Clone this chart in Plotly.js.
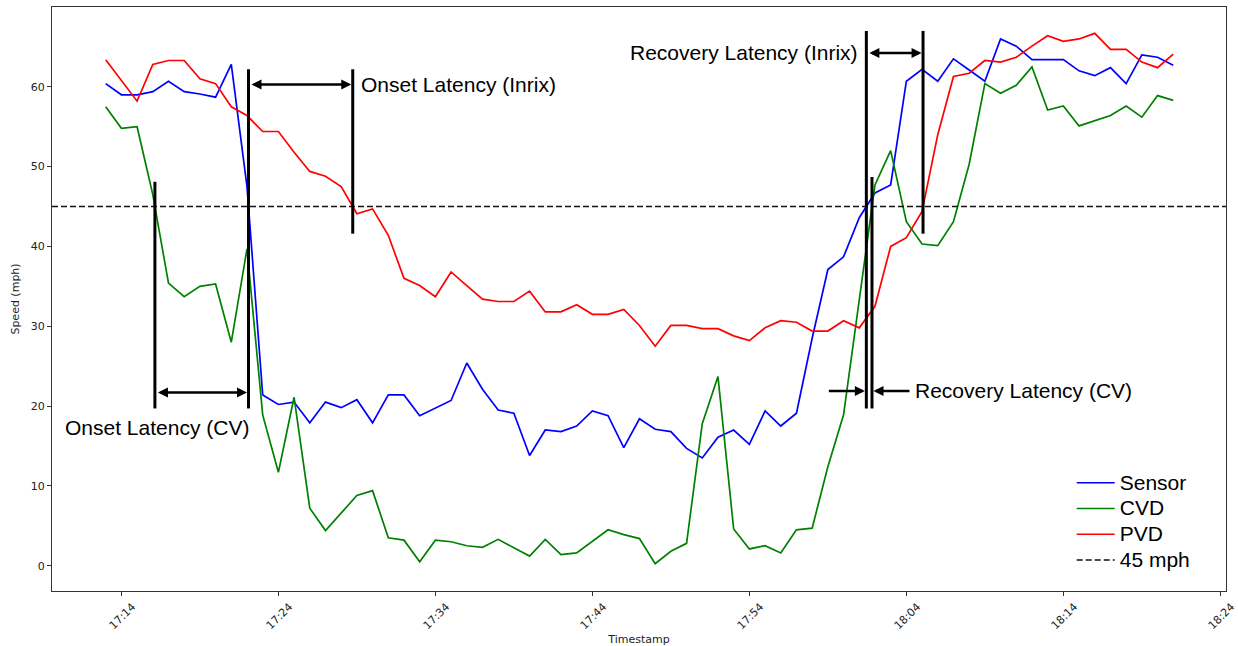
<!DOCTYPE html>
<html>
<head>
<meta charset="utf-8">
<script src="https://cdn.plot.ly/plotly-3.0.1.min.js"></script>
<style>
  html, body { margin: 0; padding: 0; background: #ffffff; }
  #chart { width: 1238px; height: 646px; }
</style>
</head>
<body>
<div id="chart"></div>
<script>
// Speeds (mph), one reading per minute starting at 17:13
const sensorSpeed = [
  60.4, 59.0, 59.0, 59.4, 60.7, 59.4, 59.1, 58.7, 62.8, 47.5,
  21.4, 20.2, 20.5, 17.9, 20.5, 19.8, 20.8, 17.9, 21.4, 21.4,
  18.8, 19.8, 20.7, 25.4, 22.1, 19.5, 19.1, 13.8, 17.0, 16.8,
  17.5, 19.4, 18.8, 14.8, 18.4, 17.1, 16.8, 14.7, 13.5, 16.1,
  17.0, 15.2, 19.4, 17.5, 19.1, 28.5, 37.1, 38.7, 43.6, 46.7,
  47.7, 60.7, 62.2, 60.7, 63.5, 62.1, 60.7, 66.0, 65.1, 63.4,
  63.4, 63.4, 62.0, 61.4, 62.4, 60.4, 64.0, 63.7, 62.7
];
const cvdSpeed = [
  57.5, 54.8, 55.0, 46.5, 35.4, 33.7, 35.0, 35.3, 28.0, 39.7,
  18.9, 11.7, 21.1, 7.2, 4.4, 6.6, 8.8, 9.4, 3.5, 3.2,
  0.5, 3.2, 3.0, 2.5, 2.3, 3.3, 2.2, 1.2, 3.3, 1.4,
  1.6, 3.0, 4.5, 3.9, 3.4, 0.25, 1.8, 2.8, 17.8, 23.7,
  4.6, 2.1, 2.5, 1.6, 4.5, 4.7, 12.4, 18.9, 33.5, 47.7,
  52.0, 43.1, 40.3, 40.1, 43.1, 50.3, 60.4, 59.2, 60.2, 62.5,
  57.1, 57.6, 55.1, 55.8, 56.4, 57.6, 56.2, 58.9, 58.3
];
const pvdSpeed = [
  63.4, 60.8, 58.2, 62.8, 63.3, 63.3, 61.0, 60.4, 57.5, 56.4,
  54.4, 54.4, 51.8, 49.4, 48.8, 47.5, 44.1, 44.7, 41.4, 36.0,
  35.1, 33.7, 36.8, 35.1, 33.4, 33.1, 33.1, 34.4, 31.8, 31.8,
  32.7, 31.5, 31.5, 32.1, 30.1, 27.5, 30.1, 30.1, 29.7, 29.7,
  28.8, 28.2, 29.8, 30.7, 30.5, 29.4, 29.4, 30.7, 29.8, 32.5,
  40.0, 41.1, 44.4, 54.0, 61.3, 61.7, 63.3, 63.1, 63.7, 65.1,
  66.4, 65.7, 66.0, 66.7, 64.7, 64.7, 63.1, 62.4, 64.1
];
const threshold = 45;
const seriesNames = ['Sensor', 'CVD', 'PVD', '45 mph'];
const tickLabels = ['17:14', '17:24', '17:34', '17:44', '17:54', '18:04', '18:14', '18:24'];
const yTicks = [0, 10, 20, 30, 40, 50, 60];

const DAY = '2021-06-01';
const FIRST_MINUTE = 17 * 60 + 13;

function pad2(n) { return String(n).padStart(2, '0'); }
// minutes since midnight -> date string for the date axis
function stamp(minutes) {
  const totalSec = minutes * 60;
  const h = Math.floor(totalSec / 3600);
  const m = Math.floor((totalSec - h * 3600) / 60);
  const s = totalSec - h * 3600 - m * 60;
  return DAY + ' ' + pad2(h) + ':' + pad2(m) + ':' + s.toFixed(3).padStart(6, '0');
}
const times = sensorSpeed.map((_, i) => stamp(FIRST_MINUTE + i));
const indexToTime = idx => stamp(FIRST_MINUTE + idx);

// fractional sample index where a series first crosses the threshold
function crossing(vals, goingDown, from) {
  for (let i = from; i < vals.length - 1; i++) {
    const a = vals[i], b = vals[i + 1];
    if (goingDown ? (a >= threshold && b < threshold) : (a <= threshold && b > threshold)) {
      return i + (a - threshold) / (a - b);
    }
  }
  return null;
}
const sensorOnIdx = crossing(sensorSpeed, true, 0);
const cvdOnIdx = crossing(cvdSpeed, true, 0);
const pvdOnIdx = crossing(pvdSpeed, true, 0);
const sensorOn = indexToTime(sensorOnIdx);
const cvdOn = indexToTime(cvdOnIdx);
const pvdOn = indexToTime(pvdOnIdx);
const sensorRec = indexToTime(crossing(sensorSpeed, false, Math.ceil(sensorOnIdx)));
const cvdRec = indexToTime(crossing(cvdSpeed, false, Math.ceil(cvdOnIdx)));
const pvdRec = indexToTime(crossing(pvdSpeed, false, Math.ceil(pvdOnIdx)));

const xRange = [stamp(17 * 60 + 9.58), stamp(18 * 60 + 24.36)];
const yRange = [-3.17, 70.0];

// legend entries: the row spacing follows the legend font size, the glyphs are drawn larger
const legendName = n => '<span style="font-size:21px">' + n + '</span>';

const LINE_W = 1.7;
const traces = [
  { x: times, y: sensorSpeed, name: legendName(seriesNames[0]), mode: 'lines', line: { color: '#0000ff', width: LINE_W } },
  { x: times, y: cvdSpeed, name: legendName(seriesNames[1]), mode: 'lines', line: { color: '#008000', width: LINE_W } },
  { x: times, y: pvdSpeed, name: legendName(seriesNames[2]), mode: 'lines', line: { color: '#ff0000', width: LINE_W } },
  { x: xRange, y: [threshold, threshold], name: legendName(seriesNames[3]), mode: 'lines',
    line: { color: '#111111', width: 1.6, dash: '6px,3px' } }
];

// latency marker lines
function vline(t, y0, y1) {
  return { type: 'line', xref: 'x', yref: 'y', x0: t, x1: t, y0: y0, y1: y1,
           line: { color: '#000000', width: 3 }, layer: 'above' };
}
const shapes = [
  vline(sensorOn, 41.6, 62.2),
  vline(pvdOn, 41.6, 62.2),
  vline(cvdOn, 19.7, 48.1),
  vline(sensorOn, 19.7, 48.1),
  vline(sensorRec, 19.7, 67.0),
  vline(pvdRec, 41.6, 67.0),
  vline(cvdRec, 19.7, 48.7)
];

const LABEL_FONT = { family: 'Liberation Sans, Arial, sans-serif', size: 21, color: '#000000' };
function span(tFrom, tTo, y) {
  return { x: tTo, y: y, ax: tFrom, ay: y, axref: 'x', ayref: 'y', xref: 'x', yref: 'y',
           text: '', showarrow: true, arrowside: 'end+start', arrowhead: 2, startarrowhead: 2,
           arrowsize: 0.8, startarrowsize: 0.8, arrowwidth: 2.5, arrowcolor: '#000000',
           standoff: 1.5, startstandoff: 1.5 };
}
function pointer(t, y, dx) {
  return { x: t, y: y, ax: dx, ay: 0, xref: 'x', yref: 'y', text: '', showarrow: true,
           arrowhead: 2, arrowsize: 0.8, arrowwidth: 2.5, arrowcolor: '#000000', standoff: 1.5 };
}
function label(t, y, text, anchor, dx) {
  return { x: t, y: y, xref: 'x', yref: 'y', text: text, showarrow: false,
           xanchor: anchor, yanchor: 'middle', xshift: dx, font: LABEL_FONT };
}
const annotations = [
  span(sensorOn, pvdOn, 60.3),
  label(pvdOn, 60.3, 'Onset Latency (Inrix)', 'left', 6),
  span(cvdOn, sensorOn, 21.7),
  label(sensorOn, 17.3, 'Onset Latency (CV)', 'right', 3),
  span(sensorRec, pvdRec, 64.25),
  label(sensorRec, 64.25, 'Recovery Latency (Inrix)', 'right', -6),
  pointer(sensorRec, 21.9, -39),
  pointer(cvdRec, 21.9, 39),
  label(cvdRec, 21.9, 'Recovery Latency (CV)', 'left', 41)
];

const TICK_FONT = { family: 'DejaVu Sans, sans-serif', size: 11, color: '#222222' };
const layout = {
  width: 1238, height: 646,
  margin: { l: 52, r: 12, t: 7, b: 55, pad: 0 },
  paper_bgcolor: '#ffffff', plot_bgcolor: '#ffffff',
  showlegend: true,
  legend: {
    x: 0.8686, y: 0.216, xanchor: 'left', yanchor: 'top',
    bgcolor: 'rgba(0,0,0,0)', borderwidth: 0, itemwidth: 38,
    font: { family: 'Liberation Sans, Arial, sans-serif', size: 17.5, color: '#000000' }
  },
  xaxis: {
    type: 'date', range: xRange, automargin: false,
    tickmode: 'array', tickvals: tickLabels.map(t => DAY + ' ' + t), ticktext: tickLabels,
    tickangle: -45, ticklabelshift: 11, ticks: 'outside', ticklen: 4, tickwidth: 1, tickcolor: '#333333',
    tickfont: TICK_FONT, showgrid: false, zeroline: false,
    showline: true, mirror: true, linecolor: '#333333', linewidth: 1,
    title: { text: 'Timestamp', font: TICK_FONT, standoff: 4 }
  },
  yaxis: {
    range: yRange, automargin: false,
    tickmode: 'array', tickvals: yTicks, ticktext: yTicks.map(String),
    ticks: 'outside', ticklen: 4, tickwidth: 1, tickcolor: '#333333',
    tickfont: TICK_FONT, showgrid: false, zeroline: false,
    showline: true, mirror: true, linecolor: '#333333', linewidth: 1,
    title: { text: 'Speed (mph)', font: TICK_FONT, standoff: 8 }
  },
  shapes: shapes,
  annotations: annotations
};

Plotly.newPlot('chart', traces, layout, { displayModeBar: false, staticPlot: true });
</script>
</body>
</html>
